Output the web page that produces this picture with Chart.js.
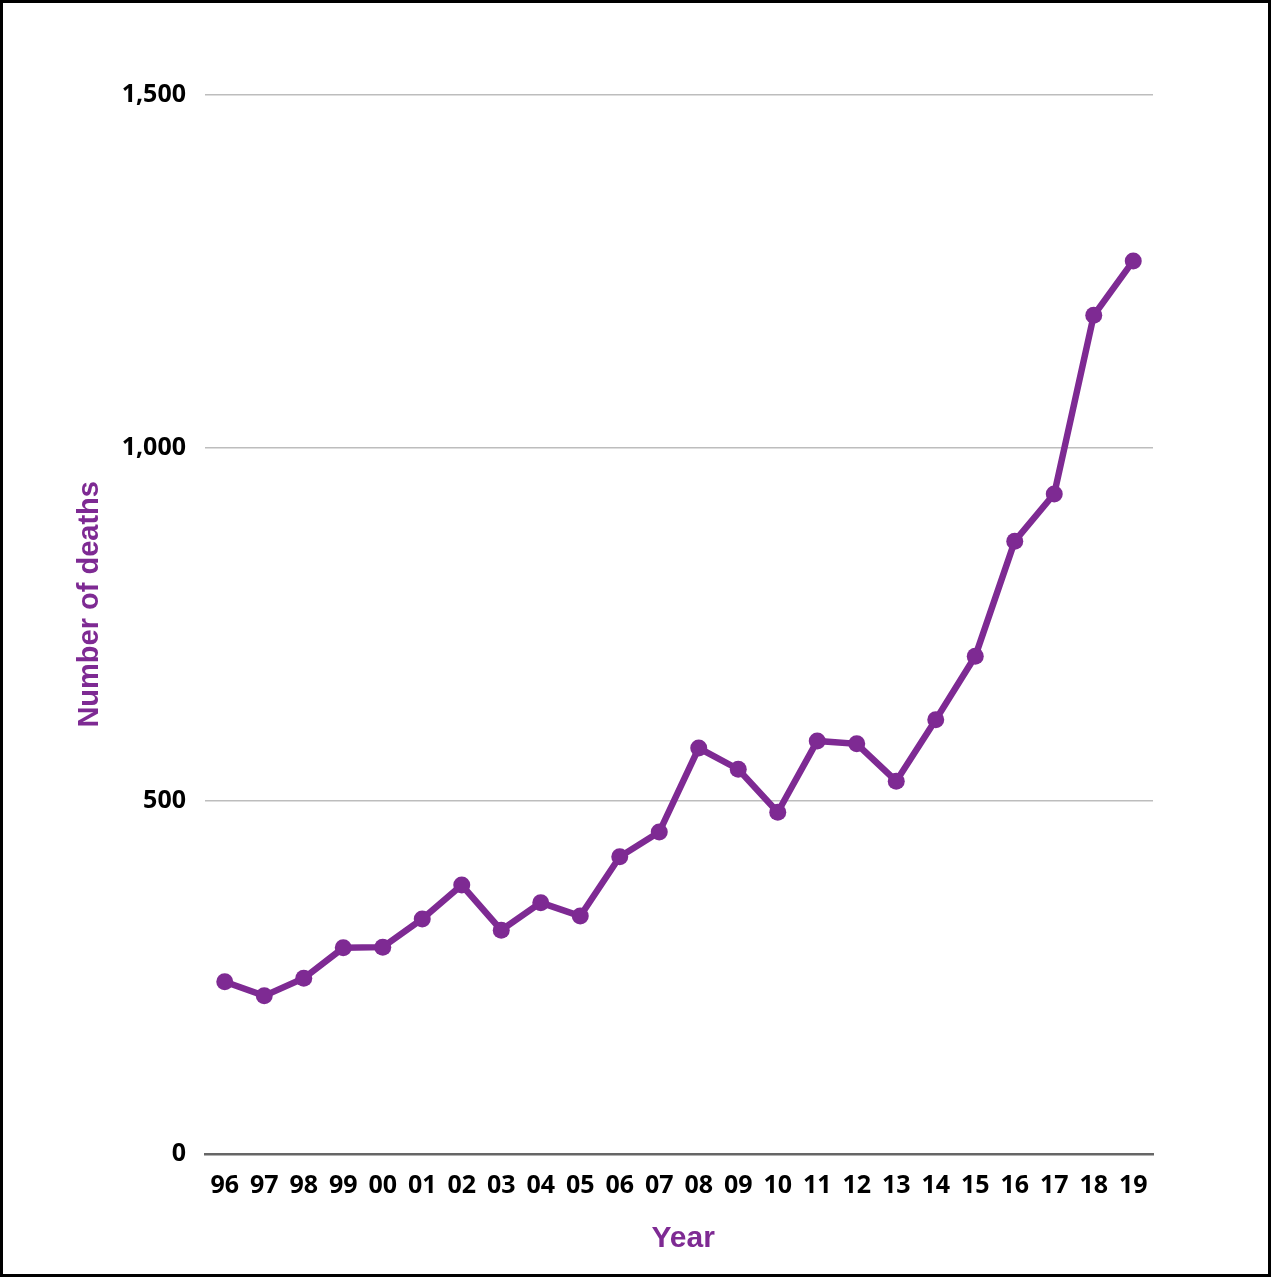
<!DOCTYPE html>
<html>
<head>
<meta charset="utf-8">
<script src="https://cdn.jsdelivr.net/npm/chart.js@4/dist/chart.umd.min.js"></script>
<style>
  html, body { margin: 0; padding: 0; background: #fff; }
  #wrap { width: 1271px; height: 1277px; }
</style>
</head>
<body>
<div id="wrap"><canvas id="chart" width="1271" height="1277"></canvas></div>
<script>
// Data
const years = ['96','97','98','99','00','01','02','03','04','05','06','07','08','09','10','11','12','13','14','15','16','17','18','19'];
const deaths = [244, 224, 249, 292, 293, 333, 381, 317, 356, 337, 421, 456, 575, 545, 484, 585, 581, 528, 615, 705, 868, 935, 1188, 1265];
const yTicks = [0, 500, 1000, 1500];

const purple = '#7e2a93';

// frame around the whole picture
const framePlugin = {
    id: 'frame',
    afterDraw(chart) {
        const ctx = chart.ctx;
        ctx.save();
        ctx.strokeStyle = '#000';
        ctx.lineWidth = 3;
        ctx.strokeRect(1.5, 1.5, chart.width - 3, chart.height - 3);
        ctx.restore();
    }
};

new Chart(document.getElementById('chart'), {
    type: 'line',
    data: {
        labels: years,
        datasets: [{
            label: 'Number of deaths',
            data: deaths,
            borderColor: purple,
            backgroundColor: purple,
            borderWidth: 6.5,
            pointRadius: 8.5,
            pointBorderWidth: 0,
            pointBackgroundColor: purple,
            tension: 0,
            fill: false
        }]
    },
    options: {
        responsive: false,
        animation: false,
        layout: { padding: { top: 95, right: 118, left: 0, bottom: 0 } },
        plugins: {
            legend: { display: false },
            tooltip: { enabled: false }
        },
        scales: {
            x: {
                offset: true,
                grid: { display: false, drawTicks: false },
                border: { display: true, color: '#666', width: 2.5 },
                ticks: {
                    color: '#000',
                    padding: 17,
                    maxRotation: 0,
                    autoSkip: false,
                    font: { family: 'Noto Sans', size: 25, weight: 'bold' }
                },
                title: {
                    display: true,
                    text: ' Year',
                    color: purple,
                    padding: { top: 0, bottom: 20 },
                    font: { family: 'Liberation Sans', size: 30, weight: 'bold' }
                },
                afterFit(scale) { scale.height = 123; }
            },
            y: {
                min: 0,
                max: 1500,
                afterBuildTicks(scale) { scale.ticks = yTicks.map(v => ({ value: v })); },
                grid: { color: '#bdbdbd', lineWidth: 1.5, drawTicks: false },
                border: { display: false },
                ticks: {
                    color: '#000',
                    padding: 19,
                    font: { family: 'Noto Sans', size: 25, weight: 'bold' },
                    callback: v => v.toLocaleString('en-US')
                },
                title: {
                    display: true,
                    text: '     Number of deaths',
                    color: purple,
                    padding: { top: 73, bottom: 0 },
                    font: { family: 'Liberation Sans', size: 29, weight: 'bold' }
                },
                afterFit(scale) { scale.width = 205; }
            }
        }
    },
    plugins: [framePlugin]
});
</script>
</body>
</html>
